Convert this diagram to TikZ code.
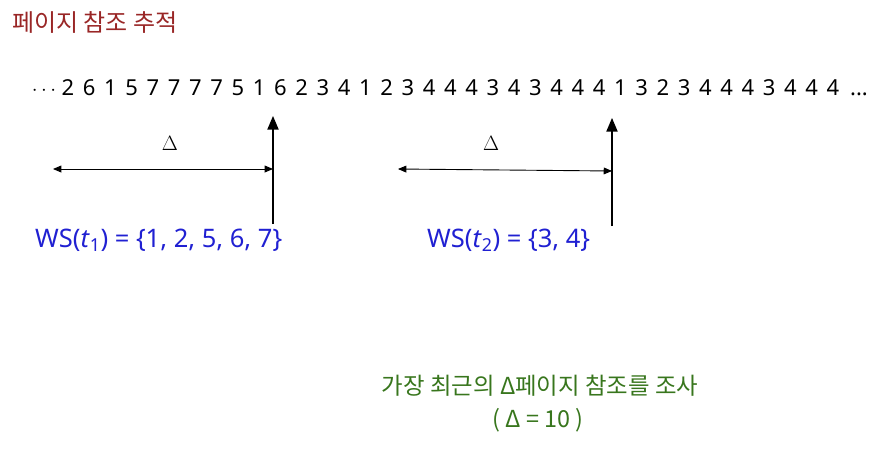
\documentclass[tikz,border=0pt]{standalone}
\usepackage{fontspec}
\setmainfont{Noto Sans}
\newfontfamily\krfont{Noto Sans CJK KR}
\usetikzlibrary{arrows}
\definecolor{titlered}{RGB}{153,38,38}
\definecolor{wsblue}{RGB}{32,32,210}
\definecolor{notegreen}{RGB}{56,118,29}
\tikzstyle{title} = [anchor=west, inner sep=0pt, font=\krfont\fontsize{24}{28}\selectfont, text=titlered]
\tikzstyle{page} = [anchor=base, inner sep=0pt, font=\fontsize{22}{26}\selectfont]
\tikzstyle{delta} = [inner sep=0pt, font=\fontsize{21}{25}\selectfont]
\tikzstyle{wset} = [anchor=base west, inner sep=0pt, font=\fontsize{25.5}{30}\selectfont, text=wsblue]
\tikzstyle{note} = [inner sep=0pt, font=\krfont\fontsize{23.4}{28}\selectfont, text=notegreen]
\tikzstyle{marker} = [line width=2.2pt,->,>=triangle 45]
\tikzstyle{window} = [line width=0.9pt,<->,>=triangle 45]

\begin{document}
\begin{tikzpicture}[x=1pt,y=-1pt]
            \useasboundingbox (0,0) rectangle (890,450);
            \node [title] at (12,22) (title) {페이지 참조 추적};
            % reference string
            \node [page] at (44,95) (dotsl) {$\cdots$};
            \foreach \d [count=\i] in {2,6,1,5,7,7,7,7,5,1,6,2,3,4,1,2,3,4,4,4,3,4,3,4,4,4,1,3,2,3,4,4,4,3,4,4,4}
                \node [page] at (68+21.25*\i-21.25,95) (d\i) {\d};
            \node [page] at (859,95) (dotsr) {...};
            % window at t1
            \coordinate (t1top) at (273,116);
            \coordinate (t1bot) at (273,224);
            \coordinate (t1mid) at (273,169);
            \coordinate (w1left) at (53,169);
            \draw [marker] (t1bot) -- (t1top);
            \draw [window] (w1left) -- (t1mid);
            \node [delta] at (170,143) (delta1) {$\Delta$};
            \node [wset] at (35,247) (ws1) {WS(\textit{t}\textsubscript{1}) = \{1, 2, 5, 6, 7\}};
            % window at t2
            \coordinate (t2top) at (612,118);
            \coordinate (t2bot) at (612,226);
            \coordinate (t2mid) at (612,171);
            \coordinate (w2left) at (398,169);
            \draw [marker] (t2bot) -- (t2top);
            \draw [window] (w2left) -- (t2mid);
            \node [delta] at (491,143) (delta2) {$\Delta$};
            \node [wset] at (427,247) (ws2) {WS(\textit{t}\textsubscript{2}) = \{3, 4\}};
            % note
            \node [note] at (540,386) (note1) {가장 최근의 Δ페이지 참조를 조사};
            \node [note] at (538,420) (note2) {( Δ = 10 )};
\end{tikzpicture}
\end{document}
